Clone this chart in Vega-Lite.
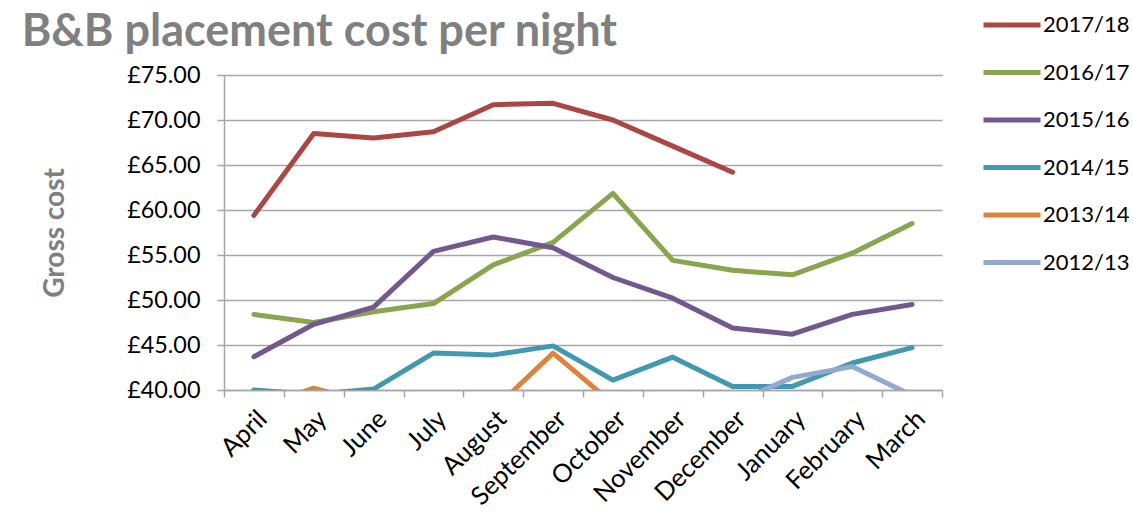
{
  "$schema": "https://vega.github.io/schema/vega-lite/v6.json",
  "width": 718,
  "height": 315,
  "autosize": {"type": "none"},
  "padding": {"left": 224, "top": 75, "right": 191, "bottom": 135},
  "background": "white",
  "config": {"font": "Lato", "view": {"stroke": null}},
  "title": {"text": "B&B placement cost per night", "anchor": "start", "dx": -20, "dy": 64, "fontSize": 45, "font": "Lato", "fontWeight": "bold", "color": "#808080", "offset": 22},
  "data": {"values": [
    {"year": "2017/18", "month": "April", "cost": 59.4},
    {"year": "2017/18", "month": "May", "cost": 68.5},
    {"year": "2017/18", "month": "June", "cost": 68.0},
    {"year": "2017/18", "month": "July", "cost": 68.7},
    {"year": "2017/18", "month": "August", "cost": 71.7},
    {"year": "2017/18", "month": "September", "cost": 71.85},
    {"year": "2017/18", "month": "October", "cost": 70.0},
    {"year": "2017/18", "month": "November", "cost": 67.1},
    {"year": "2017/18", "month": "December", "cost": 64.2},
    {"year": "2016/17", "month": "April", "cost": 48.4},
    {"year": "2016/17", "month": "May", "cost": 47.5},
    {"year": "2016/17", "month": "June", "cost": 48.7},
    {"year": "2016/17", "month": "July", "cost": 49.6},
    {"year": "2016/17", "month": "August", "cost": 53.9},
    {"year": "2016/17", "month": "September", "cost": 56.4},
    {"year": "2016/17", "month": "October", "cost": 61.85},
    {"year": "2016/17", "month": "November", "cost": 54.4},
    {"year": "2016/17", "month": "December", "cost": 53.3},
    {"year": "2016/17", "month": "January", "cost": 52.8},
    {"year": "2016/17", "month": "February", "cost": 55.2},
    {"year": "2016/17", "month": "March", "cost": 58.5},
    {"year": "2015/16", "month": "April", "cost": 43.7},
    {"year": "2015/16", "month": "May", "cost": 47.3},
    {"year": "2015/16", "month": "June", "cost": 49.2},
    {"year": "2015/16", "month": "July", "cost": 55.4},
    {"year": "2015/16", "month": "August", "cost": 57.0},
    {"year": "2015/16", "month": "September", "cost": 55.8},
    {"year": "2015/16", "month": "October", "cost": 52.5},
    {"year": "2015/16", "month": "November", "cost": 50.2},
    {"year": "2015/16", "month": "December", "cost": 46.9},
    {"year": "2015/16", "month": "January", "cost": 46.2},
    {"year": "2015/16", "month": "February", "cost": 48.4},
    {"year": "2015/16", "month": "March", "cost": 49.5},
    {"year": "2014/15", "month": "April", "cost": 40.0},
    {"year": "2014/15", "month": "May", "cost": 39.5},
    {"year": "2014/15", "month": "June", "cost": 40.1},
    {"year": "2014/15", "month": "July", "cost": 44.1},
    {"year": "2014/15", "month": "August", "cost": 43.9},
    {"year": "2014/15", "month": "September", "cost": 44.9},
    {"year": "2014/15", "month": "October", "cost": 41.1},
    {"year": "2014/15", "month": "November", "cost": 43.65},
    {"year": "2014/15", "month": "December", "cost": 40.4},
    {"year": "2014/15", "month": "January", "cost": 40.4},
    {"year": "2014/15", "month": "February", "cost": 43.0},
    {"year": "2014/15", "month": "March", "cost": 44.7},
    {"year": "2013/14", "month": "April", "cost": 37.9},
    {"year": "2013/14", "month": "May", "cost": 40.2},
    {"year": "2013/14", "month": "June", "cost": 38.4},
    {"year": "2013/14", "month": "July", "cost": 37.5},
    {"year": "2013/14", "month": "August", "cost": 37.8},
    {"year": "2013/14", "month": "September", "cost": 44.1},
    {"year": "2013/14", "month": "October", "cost": 38.5},
    {"year": "2013/14", "month": "November", "cost": 37.5},
    {"year": "2013/14", "month": "December", "cost": 37.0},
    {"year": "2013/14", "month": "January", "cost": 37.0},
    {"year": "2013/14", "month": "February", "cost": 37.0},
    {"year": "2013/14", "month": "March", "cost": 37.0},
    {"year": "2012/13", "month": "April", "cost": 36.5},
    {"year": "2012/13", "month": "May", "cost": 36.5},
    {"year": "2012/13", "month": "June", "cost": 36.5},
    {"year": "2012/13", "month": "July", "cost": 36.5},
    {"year": "2012/13", "month": "August", "cost": 36.5},
    {"year": "2012/13", "month": "September", "cost": 36.5},
    {"year": "2012/13", "month": "October", "cost": 36.5},
    {"year": "2012/13", "month": "November", "cost": 37.0},
    {"year": "2012/13", "month": "December", "cost": 38.5},
    {"year": "2012/13", "month": "January", "cost": 41.4},
    {"year": "2012/13", "month": "February", "cost": 42.6},
    {"year": "2012/13", "month": "March", "cost": 39.4}
  ]},
  "mark": {"type": "line", "clip": true, "strokeWidth": 5, "strokeCap": "round", "strokeJoin": "round"},
  "encoding": {
    "x": {
      "field": "month", "type": "nominal",
      "sort": ["April", "May", "June", "July", "August", "September", "October", "November", "December", "January", "February", "March"],
      "scale": {"type": "band", "paddingInner": 0, "paddingOuter": 0},
      "axis": {"title": null, "labelAngle": -45, "labelFontSize": 25.5, "labelColor": "black", "tickBand": "extent", "tickSize": 7, "tickWidth": 1.5, "tickColor": "#A6A6A6", "domainColor": "#A6A6A6", "domainWidth": 1.5, "labelPadding": 9, "grid": false}
    },
    "y": {
      "field": "cost", "type": "quantitative",
      "scale": {"domain": [40, 75], "nice": false, "zero": false},
      "axis": {"values": [40, 45, 50, 55, 60, 65, 70, 75], "labelExpr": "'£' + format(datum.value, '.2f')", "grid": true, "gridColor": "#A6A6A6", "gridWidth": 1.5, "domainColor": "#A6A6A6", "domainWidth": 1.5, "tickColor": "#A6A6A6", "tickWidth": 1.5, "tickSize": 7, "labelFontSize": 23.4, "labelColor": "black", "labelPadding": 17, "title": "Gross cost", "titleFontSize": 28, "titleColor": "#808080", "titleFontWeight": "bold", "titlePadding": 57}
    },
    "color": {
      "field": "year", "type": "nominal",
      "scale": {"domain": ["2017/18", "2016/17", "2015/16", "2014/15", "2013/14", "2012/13"], "range": ["#AA4643", "#89A54E", "#71588F", "#4198AF", "#DB843D", "#93A9CF"]},
      "legend": {"title": null, "orient": "none", "legendX": 757, "legendY": -62, "direction": "vertical", "symbolType": "stroke", "symbolSize": 3249, "symbolStrokeWidth": 5, "clipHeight": 24, "rowPadding": 23.5, "labelFontSize": 22, "labelColor": "black", "labelOffset": 0, "padding": 0}
    }
  }
}
